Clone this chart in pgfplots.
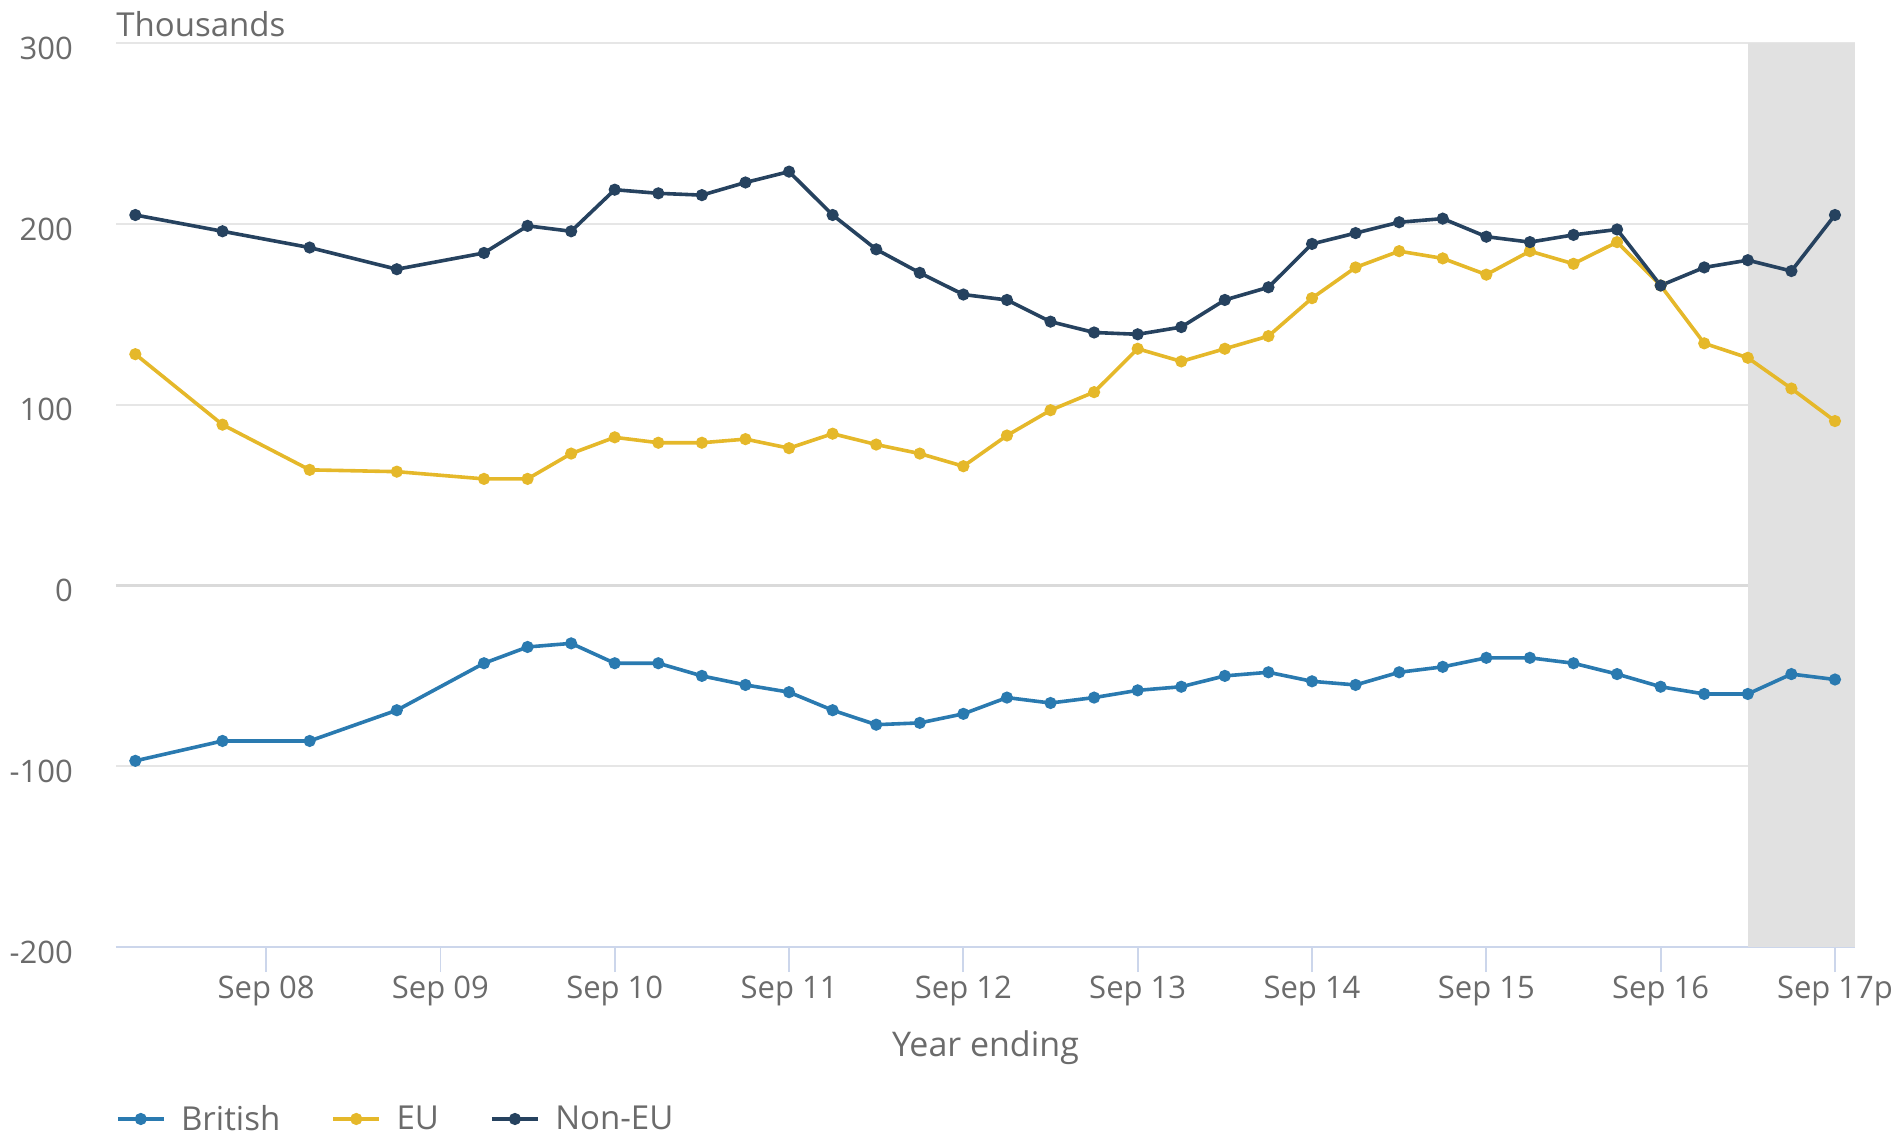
\documentclass[border=0pt]{standalone}
\usepackage{fontspec}
\setmainfont{Open Sans}
\usepackage{pgfplots}
\pgfplotsset{compat=1.18}

\definecolor{british}{HTML}{2A7AB0}
\definecolor{eu}{HTML}{E5B82A}
\definecolor{noneu}{HTML}{26425F}
\definecolor{gridc}{HTML}{E6E6E6}
\definecolor{zeroc}{HTML}{DADADA}
\definecolor{axisc}{HTML}{CCD6EB}
\definecolor{bandc}{HTML}{E1E1E1}
\definecolor{labelc}{HTML}{6B6B6B}

\begin{document}
\begin{tikzpicture}
\useasboundingbox (-58pt,-94.5pt) rectangle (890.5pt,473.5pt);
\begin{axis}[
  at={(0,0)}, anchor=south west,
  scale only axis, width=869.5pt, height=451.85pt,
  xmin=7.139, xmax=17.115, ymin=-200, ymax=300,
  axis x line*=bottom, axis y line*=left,
  y axis line style={draw=none},
  x axis line style={draw=axisc, line width=0.9pt},
  ytick={-200,-100,100,200,300},
  yticklabels={-200,-100,100,200,300},
  extra y ticks={0}, extra y tick labels={0},
  extra y tick style={grid style={color=zeroc, line width=1.6pt}},
  ytick style={draw=none},
  xtick={8,...,17},
  xticklabels={Sep 08,Sep 09,Sep 10,Sep 11,Sep 12,Sep 13,Sep 14,Sep 15,Sep 16,Sep 17p},
  xtick style={draw=axisc, line width=0.9pt},
  tick align=outside, major tick length=12.5pt,
  ymajorgrids, grid style={color=gridc, line width=0.9pt},
  tick label style={font=\fontsize{15.5}{18}\selectfont, text=labelc},
  yticklabel style={anchor=east, inner sep=0pt, xshift=-8.9pt, yshift=-2.5pt},
  xticklabel style={anchor=base, inner sep=0pt, yshift=-13.3pt},
  xlabel={Year ending},
  xlabel style={at={(axis description cs:0.5,0)}, anchor=base, yshift=-54.8pt,
    inner sep=0pt, font=\fontsize{17}{20}\selectfont, text=labelc},
  legend columns=3,
  legend style={at={(0,-0.19033)}, anchor=west, draw=none, fill=none,
    inner sep=0pt, outer sep=0pt, nodes={inner sep=0pt, text=labelc},
    font=\fontsize{16.5}{19}\selectfont,
    /tikz/every odd column/.append style={column sep=7.75pt},
    /tikz/every even column/.append style={column sep=25.6pt}},
  legend image code/.code={\draw[mark repeat=2,mark phase=2] plot coordinates {(0pt,0pt) (11.5pt,0pt) (23pt,0pt)};},
  every axis plot/.append style={line width=1.8pt, mark=*, mark size=2.1pt},
]
% shaded provisional period
\addplot[draw=none, fill=bandc, mark=none, forget plot] coordinates {(16.5,-200) (17.115,-200) (17.115,300) (16.5,300)} -- cycle;

% British
\addplot[color=british, mark options={fill=british}] coordinates {
(7.25,-97) (7.75,-86) (8.25,-86) (8.75,-69) (9.25,-43) (9.5,-34) (9.75,-32) (10,-43)
(10.25,-43) (10.5,-50) (10.75,-55) (11,-59) (11.25,-69) (11.5,-77) (11.75,-76) (12,-71)
(12.25,-62) (12.5,-65) (12.75,-62) (13,-58) (13.25,-56) (13.5,-50) (13.75,-48) (14,-53)
(14.25,-55) (14.5,-48) (14.75,-45) (15,-40) (15.25,-40) (15.5,-43) (15.75,-49) (16,-56)
(16.25,-60) (16.5,-60) (16.75,-49) (17,-52)};

% EU
\addplot[color=eu, mark options={fill=eu}] coordinates {
(7.25,128) (7.75,89) (8.25,64) (8.75,63) (9.25,59) (9.5,59) (9.75,73) (10,82)
(10.25,79) (10.5,79) (10.75,81) (11,76) (11.25,84) (11.5,78) (11.75,73) (12,66)
(12.25,83) (12.5,97) (12.75,107) (13,131) (13.25,124) (13.5,131) (13.75,138) (14,159)
(14.25,176) (14.5,185) (14.75,181) (15,172) (15.25,185) (15.5,178) (15.75,190) (16,166)
(16.25,134) (16.5,126) (16.75,109) (17,91)};

% Non-EU
\addplot[color=noneu, mark options={fill=noneu}] coordinates {
(7.25,205) (7.75,196) (8.25,187) (8.75,175) (9.25,184) (9.5,199) (9.75,196) (10,219)
(10.25,217) (10.5,216) (10.75,223) (11,229) (11.25,205) (11.5,186) (11.75,173) (12,161)
(12.25,158) (12.5,146) (12.75,140) (13,139) (13.25,143) (13.5,158) (13.75,165) (14,189)
(14.25,195) (14.5,201) (14.75,203) (15,193) (15.25,190) (15.5,194) (15.75,197) (16,166)
(16.25,176) (16.5,180) (16.75,174) (17,205)};

\legend{British, EU, Non-EU}
\end{axis}
\node[anchor=base west, inner sep=0pt, text=labelc, font=\fontsize{16.5}{19}\selectfont]
  at ([yshift=3.65pt]current axis.north west) {Thousands};
\end{tikzpicture}
\end{document}
